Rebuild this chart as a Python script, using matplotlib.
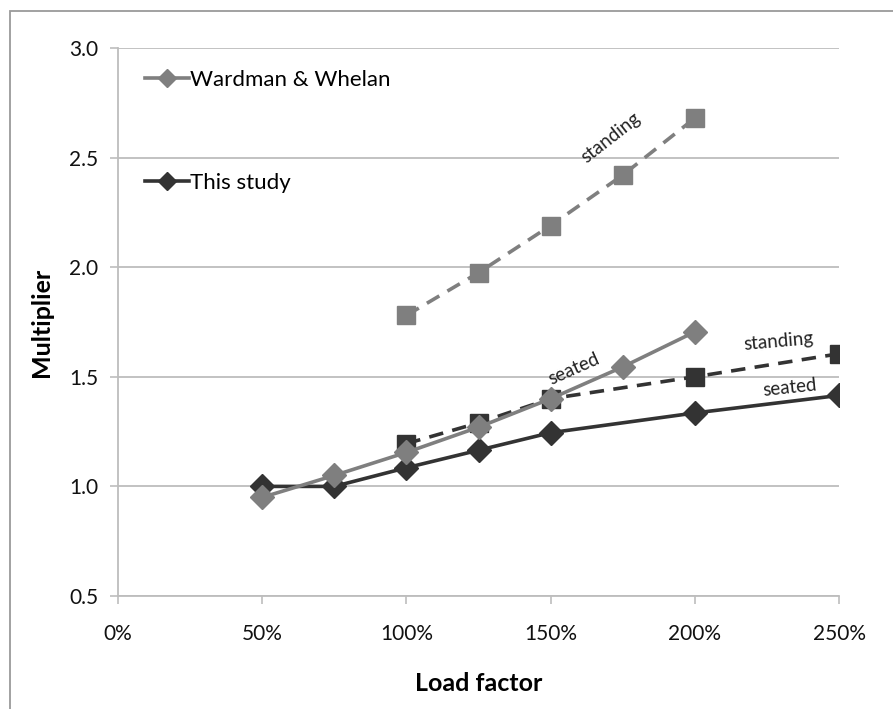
import matplotlib.pyplot as plt
from matplotlib.patches import Rectangle
from matplotlib.ticker import FuncFormatter

plt.rcParams['font.family'] = ['Lato', 'DejaVu Sans']

########################### data ####################################
ww_load = [50, 75, 100, 125, 150, 175, 200]
ww_seated = [0.95, 1.05, 1.155, 1.27, 1.40, 1.545, 1.705]
ww_stand_load = [100, 125, 150, 175, 200]
ww_standing = [1.78, 1.975, 2.19, 2.42, 2.68]

ts_load = [50, 75, 100, 125, 150, 200, 250]
ts_seated = [1.00, 1.00, 1.085, 1.165, 1.245, 1.335, 1.415]
ts_stand_load = [100, 125, 150, 200, 250]
ts_standing = [1.195, 1.29, 1.40, 1.50, 1.605]

x_ticks = [0, 50, 100, 150, 200, 250]
y_ticks = [0.5, 1.0, 1.5, 2.0, 2.5, 3.0]

light = '#7f7f7f'
dark = '#333333'
dash = (0, (4, 2.6))

fig = plt.figure(figsize=(8.93, 7.09), dpi=100)
ax = fig.add_axes([118/893, 1-596/709, (839-118)/893, (596-48)/709])

# outer frame like the spreadsheet chart area
fig.patches.append(Rectangle((10/893, -0.05), 1.2, 1-11/709+0.05, transform=fig.transFigure,
                             fill=False, edgecolor='#9a9a9a', linewidth=1.3))

ax.plot(ww_load, ww_seated, color=light, marker='D', markersize=12, linewidth=2.6,
        label='Wardman & Whelan', zorder=4)
ax.plot(ww_stand_load, ww_standing, color=light, marker='s', markersize=12.5, linewidth=2.6,
        linestyle=dash, zorder=4)
ax.plot(ts_load, ts_seated, color=dark, marker='D', markersize=12, linewidth=2.6,
        label='This study', zorder=3)
ax.plot(ts_stand_load, ts_standing, color=dark, marker='s', markersize=12.5, linewidth=2.6,
        linestyle=dash, zorder=3)

# series annotations
ax.text(171, 2.46, 'standing', rotation=38, fontsize=13.5, color='#222222', ha='center', va='bottom')
ax.text(158, 1.45, 'seated', rotation=24, fontsize=13.5, color='#222222', ha='center', va='bottom')
ax.text(229, 1.61, 'standing', rotation=5, fontsize=13.5, color='#222222', ha='center', va='bottom')
ax.text(233, 1.40, 'seated', rotation=6, fontsize=13.5, color='#222222', ha='center', va='bottom')

ax.set_xlim(0, 250)
ax.set_ylim(0.5, 3.0)
ax.set_xticks(x_ticks)
ax.set_yticks(y_ticks)
ax.xaxis.set_major_formatter(FuncFormatter(lambda v, p: '%d%%' % v))
ax.yaxis.set_major_formatter(FuncFormatter(lambda v, p: '%.1f' % v))
ax.tick_params(axis='both', labelsize=15, colors='#bdbdbd', labelcolor='#111111',
               length=6, width=1.2, direction='out')
ax.tick_params(axis='x', pad=14)
ax.tick_params(axis='y', pad=8)
ax.grid(axis='y', color='#bdbdbd', linewidth=1.3)
ax.set_axisbelow(True)
ax.spines['right'].set_visible(False)
ax.spines['top'].set_visible(False)
ax.spines['left'].set_color('#bdbdbd')
ax.spines['bottom'].set_color('#bdbdbd')
ax.spines['left'].set_linewidth(1.3)
ax.spines['bottom'].set_linewidth(1.3)

ax.set_xlabel('Load factor', fontsize=18, fontweight='bold', labelpad=20)
ax.set_ylabel('Multiplier', fontsize=18, fontweight='bold', labelpad=12)

ax.legend(loc='upper left', bbox_to_anchor=(0.037, 0.96), frameon=False, fontsize=16,
          labelspacing=3.75, handlelength=2.0, handletextpad=0.05, markerscale=0.75,
          borderpad=0, borderaxespad=0)

fig.savefig('out.png', dpi=100)
